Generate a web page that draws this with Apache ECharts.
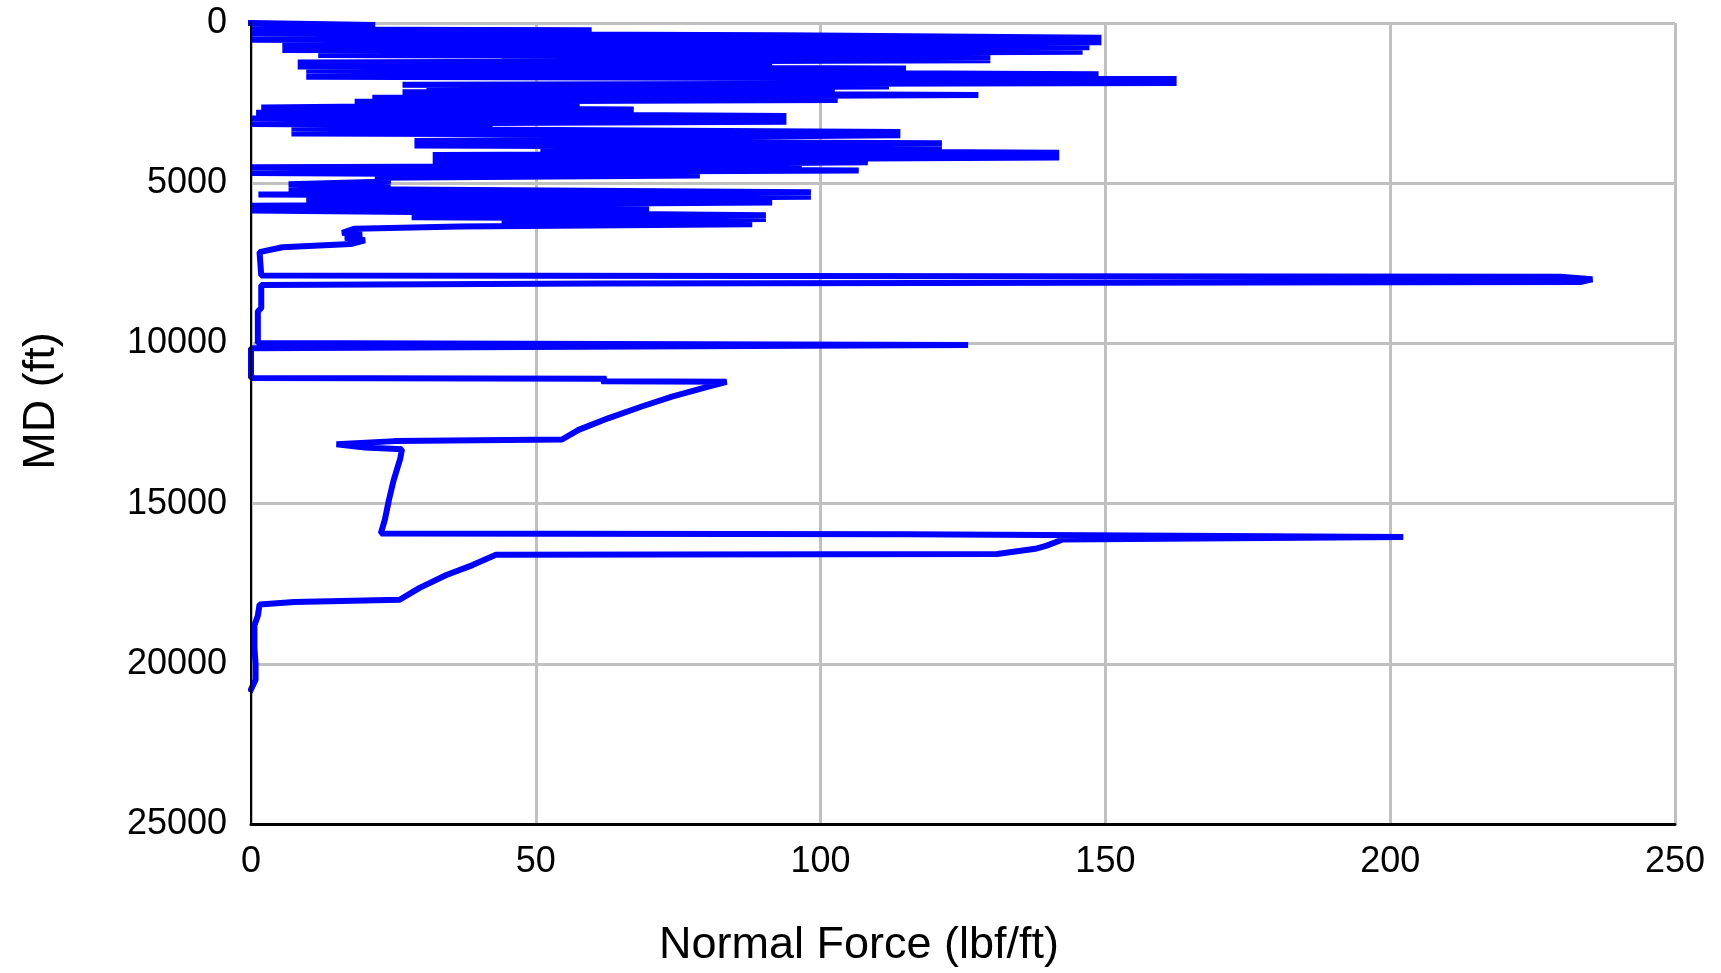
<!DOCTYPE html>
<html>
<head>
<meta charset="utf-8">
<script src="https://cdn.jsdelivr.net/npm/echarts@6/dist/echarts.min.js"></script>
<style>
html,body{margin:0;padding:0;background:#fff;}
#chart{width:1721px;height:973px;}
</style>
</head>
<body>
<div id="chart"></div>
<script>
// Measured depth (ft) of each point along the string
const md = [
  0, 60, 150, 200, 230, 330, 380, 460, 520, 600,
  700, 760, 840, 900, 1000, 1060, 1120, 1160, 1230, 1300,
  1360, 1420, 1480, 1600, 1680, 1750, 1800, 1870, 1930, 1980,
  2040, 2100, 2160, 2250, 2330, 2400, 2460, 2540, 2640, 2700,
  2800, 2900, 2980, 3080, 3150, 3200, 3290, 3400, 3450, 3500,
  3560, 3600, 3680, 3750, 3820, 3880, 3960, 4050, 4120, 4200,
  4300, 4350, 4390, 4450, 4500, 4600, 4680, 4760, 4830, 4950,
  5030, 5100, 5170, 5280, 5350, 5420, 5520, 5600, 5700, 5780,
  5850, 6000, 6060, 6120, 6200, 6280, 6350, 6420, 6550, 6600,
  6700, 6780, 6900, 7000, 7150, 7880, 7920, 8000, 8080, 8130,
  8180, 8900, 9000, 9990, 10050, 10150, 11080, 11100, 11180, 11200,
  11350, 11660, 11970, 12330, 12700, 13000, 13050, 13150, 13250, 13300,
  13600, 14300, 14900, 15500, 15930, 15960, 16040, 16120, 16310, 16410,
  16570, 16600, 16920, 17230, 17630, 18000, 18070, 18150, 18500, 18800,
  19500, 20000, 20500, 20800
];
// Normal force (lbf/ft) at each of those depths
const normalForce = [
  0, 21.8, 0, 4.4, 59.8, 0, 93.6, 149.3, 0, 149.3,
  5.5, 147.2, 5.5, 146, 11.8, 129.8, 44, 129.8, 8.2, 91.5,
  8.2, 115, 9.7, 148.8, 9.7, 162.5, 111, 162.5, 26.6, 112,
  30.8, 102.5, 26.6, 127.7, 21.3, 103, 18.2, 57.7, 1.8, 67.2,
  0.9, 94, 0, 94, 0, 42.4, 7.1, 114, 7.1, 114,
  76.7, 87.2, 28.7, 121.3, 28.7, 121.3, 50.8, 141.9, 31.9, 141.9,
  31.9, 108.3, 79.3, 96.7, 0, 106.7, 0, 78.8, 21.8, 24.5,
  6.6, 24.5, 6.6, 98.3, 1.3, 98.3, 9.7, 91.5, 0, 69.9,
  0, 90.4, 28.2, 90.4, 44, 88, 36.6, 18.2, 16, 19.5,
  16.5, 20, 17.5, 5.5, 1.5, 1.8, 229.8, 235.5, 233.5, 61,
  1.8, 1.8, 1.2, 1.2, 125.9, 0, 0, 62.4, 61.5, 83.5,
  80.3, 73.9, 68.6, 62.8, 57.5, 54.6, 25.2, 15, 20, 26.5,
  26.2, 25.0, 24.2, 23.5, 22.8, 115.5, 202.3, 142.5, 139.7, 137.7,
  131, 43, 38.9, 34.3, 29.6, 26.1, 7.6, 1.5, 1.2, 0.6,
  0.6, 0.8, 0.8, 0
];
// Axis ranges and tick steps
const forceTicks = [0, 50, 100, 150, 200, 250];
const mdTicks = [0, 5000, 10000, 15000, 20000, 25000];
const xTitle = 'Normal Force (lbf/ft)';
const yTitle = 'MD (ft)';

const points = md.map((d, i) => [normalForce[i], d]);
const FONT = '"Liberation Sans", Arial, Helvetica, sans-serif';

const chart = echarts.init(document.getElementById('chart'), null, {renderer: 'canvas'});
chart.setOption({
  animation: false,
  backgroundColor: '#ffffff',
  grid: {left: 251, right: 46, top: 23, bottom: 149, containLabel: false},
  xAxis: {
    type: 'value',
    min: forceTicks[0],
    max: forceTicks[forceTicks.length - 1],
    interval: forceTicks[1] - forceTicks[0],
    position: 'bottom',
    axisLine: {show: true, onZero: false, lineStyle: {color: '#000', width: 3}},
    axisTick: {show: false},
    axisLabel: {color: '#000', fontSize: 36, fontFamily: FONT, margin: 20,
      formatter: v => String(v)},
    splitLine: {show: true, lineStyle: {color: '#c0c0c0', width: 3}}
  },
  yAxis: [{
    type: 'value',
    inverse: true,
    min: mdTicks[0],
    max: mdTicks[mdTicks.length - 1],
    interval: mdTicks[1] - mdTicks[0],
    axisLine: {show: false},
    axisTick: {show: false},
    axisLabel: {color: '#000', fontSize: 36, fontFamily: FONT, margin: 24,
      formatter: v => String(v)},
    splitLine: {show: true, lineStyle: {color: '#c0c0c0', width: 3}}
  }, {
    type: 'value',
    inverse: true,
    position: 'left',
    min: mdTicks[0],
    max: mdTicks[mdTicks.length - 1],
    interval: mdTicks[1] - mdTicks[0],
    z: 10,
    axisLine: {show: true, onZero: false, lineStyle: {color: '#000', width: 2}},
    axisTick: {show: false},
    axisLabel: {show: false},
    splitLine: {show: false}
  }],
  series: [{
    type: 'line',
    yAxisIndex: 0,
    data: points,
    showSymbol: false,
    symbol: 'none',
    clip: false,
    smooth: false,
    lineStyle: {color: '#0000ff', width: 6, join: 'bevel', cap: 'square'},
    z: 3
  }],
  graphic: [{
    type: 'text',
    x: 859,
    y: 946,
    style: {
      text: xTitle, font: '45px ' + FONT, fill: '#000',
      textAlign: 'center', textVerticalAlign: 'middle', align: 'center', verticalAlign: 'middle'
    }
  }, {
    type: 'text',
    x: 42,
    y: 401,
    rotation: Math.PI / 2,
    style: {
      text: yTitle, font: '45px ' + FONT, fill: '#000',
      textAlign: 'center', textVerticalAlign: 'middle', align: 'center', verticalAlign: 'middle'
    }
  }]
});
</script>
</body>
</html>
